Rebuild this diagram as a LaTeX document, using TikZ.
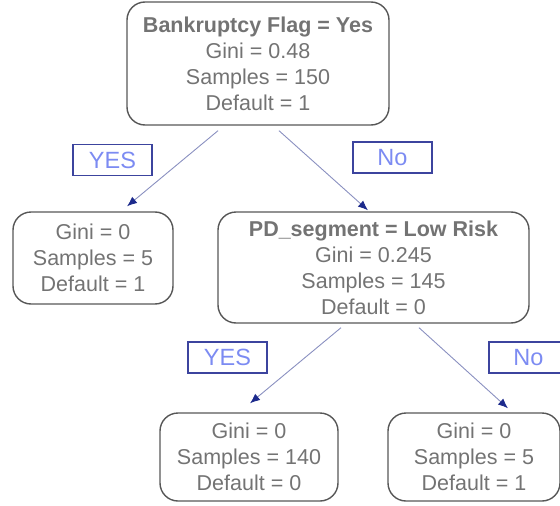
\documentclass[tikz,border=0pt]{standalone}
\usepackage{fontspec}
\setmainfont{Liberation Sans}
\usetikzlibrary{arrows.meta,calc}
\definecolor{boxline}{HTML}{575757}
\definecolor{boxtext}{HTML}{737373}
\definecolor{tagline}{HTML}{3C449E}
\definecolor{tagtext}{HTML}{7C8BF2}
\definecolor{edgeline}{HTML}{8A90C0}
\definecolor{edgehead}{HTML}{1C2A8C}
\begin{document}
\begin{tikzpicture}[x=1pt,y=-1pt,
  treenode/.style={draw=boxline,line width=1.4pt,rounded corners=18pt,
    text=boxtext,align=center,inner sep=0pt,
    font=\fontsize{21.5}{26}\selectfont},
  tag/.style={draw=tagline,line width=1.3pt,text=tagtext,inner sep=0pt,
    minimum width=79pt,minimum height=31pt,
    font=\fontsize{23.5}{26}\selectfont},
  branch/.style={draw=edgeline,line width=0.9pt,
    -{Latex[color=edgehead,length=10pt,width=8pt]}}]
\clip (0,0) rectangle (560,506);
% decision and leaf nodes
\node[treenode,minimum width=262pt,minimum height=123pt] (root) at (258,63.5)
  {\textbf{Bankruptcy Flag = Yes}\\Gini = 0.48\\Samples = 150\\Default = 1};
\node[treenode,minimum width=160pt,minimum height=92pt] (leafA) at (93,258)
  {Gini = 0\\Samples = 5\\Default = 1};
\node[treenode,minimum width=311pt,minimum height=111pt] (pd) at (373.5,267.5)
  {\textbf{PD\_segment = Low Risk}\\Gini = 0.245\\Samples = 145\\Default = 0};
\node[treenode,minimum width=178pt,minimum height=88pt] (leafB) at (249,457)
  {Gini = 0\\Samples = 140\\Default = 0};
\node[treenode,minimum width=172pt,minimum height=88pt] (leafC) at (474,457)
  {Gini = 0\\Samples = 5\\Default = 1};
% branch tags
\node[tag] (yesA) at (112.5,160) {YES};
\node[tag] (noA) at (392.5,157.5) {No};
\node[tag] (yesB) at (227.5,357.5) {YES};
\node[tag] (noB) at (528.5,357.5) {No};
% branches
\draw[branch] ($(root.south)+(-40,5)$) -- ($(leafA.north)+(34,-5)$);
\draw[branch] ($(root.south)+(21,5)$) -- ($(pd.north)+(-5.5,-1)$);
\draw[branch] ($(pd.south)+(-32.5,4)$) -- ($(leafB.north)+(1,-9)$);
\draw[branch] ($(pd.south)+(45.5,4)$) -- ($(leafC.north)+(34,-4)$);
\end{tikzpicture}
\end{document}
